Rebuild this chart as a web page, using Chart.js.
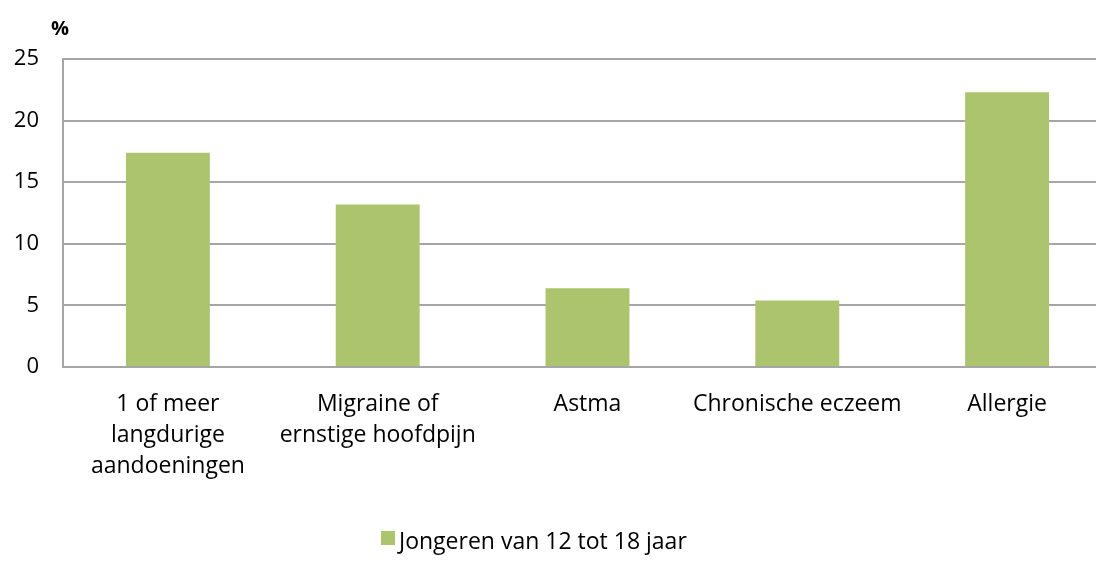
<!DOCTYPE html>
<html>
<head>
<meta charset="utf-8">
<script src="https://cdn.jsdelivr.net/npm/chart.js@4/dist/chart.umd.min.js"></script>
<style>
    html, body { margin: 0; padding: 0; background: #fff; overflow: hidden; }
    #wrap { width: 1112px; height: 561px; position: relative; }
</style>
</head>
<body>
<div id="wrap"><canvas id="chart"></canvas></div>
<script>
// Aandoeningen bij jongeren (%)
const categories = [
    ['1 of meer', 'langdurige', 'aandoeningen'],
    ['Migraine of', 'ernstige hoofdpijn'],
    'Astma',
    'Chronische eczeem',
    'Allergie'
];
const seriesLabel = 'Jongeren van 12 tot 18 jaar';
const seriesValues = [17.4, 13.2, 6.4, 5.4, 22.3];
const yTicks = [0, 5, 10, 15, 20, 25];

const fontFamily = '"Open Sans", Lato, sans-serif';
const barColor = '#abc46d';
const gridColor = '#a6a6a6';

// Eigen legenda en "%"-label, zoals in het origineel
const extraLabels = {
    id: 'extraLabels',
    afterDraw(chart) {
        const ctx = chart.ctx;
        const ds = chart.data.datasets[0];
        ctx.save();
        // "%" boven de y-as
        ctx.fillStyle = '#000';
        ctx.font = 'bold 20px ' + fontFamily;
        ctx.textBaseline = 'middle';
        ctx.textAlign = 'left';
        ctx.fillText('%', 51, 29);
        // legenda
        ctx.fillStyle = ds.backgroundColor;
        ctx.fillRect(381, 531, 14, 14);
        ctx.fillStyle = '#000';
        ctx.font = '23px ' + fontFamily;
        ctx.fillText(ds.label, 399, 542);
        ctx.restore();
    }
};

new Chart(document.getElementById('chart'), {
    type: 'bar',
    data: {
        labels: categories,
        datasets: [{
            label: seriesLabel,
            data: seriesValues,
            backgroundColor: barColor,
            categoryPercentage: 1,
            barPercentage: 0.4
        }]
    },
    options: {
        responsive: true,
        maintainAspectRatio: false,
        animation: false,
        layout: { padding: { top: 59, left: 0, right: 0, bottom: 0 } },
        plugins: {
            legend: { display: false },
            tooltip: { enabled: false }
        },
        scales: {
            x: {
                grid: { display: false, drawTicks: false },
                border: { color: gridColor, width: 2 },
                ticks: {
                    color: '#000',
                    padding: 22,
                    maxRotation: 0,
                    autoSkip: false,
                    font: { family: fontFamily, size: 23, lineHeight: 1.35 }
                },
                afterFit(scale) { scale.height = 194; }
            },
            y: {
                min: 0,
                max: 25,
                afterBuildTicks(scale) {
                    scale.ticks = yTicks.map(v => ({ value: v }));
                },
                grid: { color: gridColor, lineWidth: 2, drawTicks: false },
                border: { color: gridColor, width: 2 },
                ticks: {
                    color: '#000',
                    padding: 24,
                    font: { family: fontFamily, size: 22 }
                },
                afterFit(scale) { scale.width = 63; }
            }
        }
    },
    plugins: [extraLabels]
});
</script>
</body>
</html>
